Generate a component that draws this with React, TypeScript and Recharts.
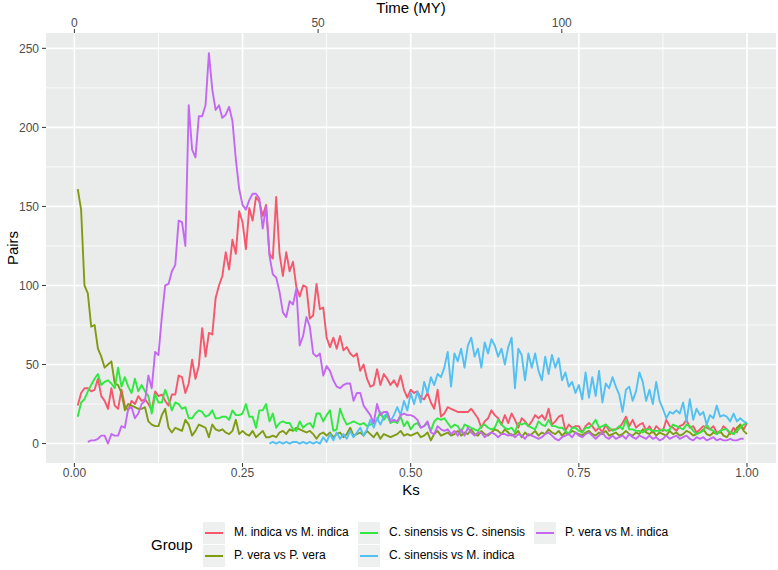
import React from "react";
import { LineChart, Line, XAxis, YAxis, CartesianGrid } from "recharts";

// Ks bins: 0.005 .. 1.000, step 0.005
const BIN = 0.005;
const N_BINS = 200;
const MY_PER_KS = 138;

const X_TICKS = [0, 0.25, 0.5, 0.75, 1];
const X_MINOR = [0.125, 0.375, 0.625, 0.875];
const Y_TICKS = [0, 50, 100, 150, 200, 250];
const Y_MINOR = [25, 75, 125, 175, 225];
const TIME_TICKS = [0, 50, 100];

// M. indica vs M. indica (from 0.005)
const RED = [
  24, 32, 35, 35, 33, 34, 41, 30, 27, 22,
  35, 24, 22, 34, 24, 21, 27, 25, 30, 27,
  28, 25, 21, 33, 30, 31, 27, 24, 31, 31,
  43, 42, 32, 38, 53, 41, 49, 73, 55, 70,
  69, 92, 100, 106, 121, 110, 129, 120, 147, 140,
  123, 149, 141, 156, 153, 144, 151, 120, 117, 156,
  120, 106, 121, 109, 115, 99, 93, 100, 99, 79,
  81, 101, 85, 86, 67, 61, 67, 60, 68, 59,
  61, 57, 55, 57, 46, 50, 41, 36, 37, 47,
  37, 44, 41, 37, 40, 36, 43, 34, 29, 34,
  32, 33, 29, 28, 32, 26, 22, 34, 17, 19,
  23, 22, 21, 20, 20, 20, 20, 22, 19, 16,
  10, 14, 16, 21, 18, 16, 12, 18, 13, 19,
  15, 10, 16, 14, 11, 14, 18, 16, 18, 15,
  22, 12, 14, 17, 18, 8, 12, 10, 11, 11,
  7, 11, 13, 11, 8, 10, 7, 12, 8, 9,
  9, 10, 13, 17, 11, 15, 10, 12, 13, 8,
  11, 7, 11, 9, 8, 15, 11, 10, 8, 11,
  12, 15, 10, 11, 7, 9, 11, 10, 9, 11,
  7, 7, 11, 9, 6, 10, 7, 12, 9, 13,
];

// P. vera vs P. vera (from 0.005)
const OLIVE = [
  161, 148, 100, 95, 74, 75, 60, 55, 48, 50,
  52, 38, 37, 32, 21, 25, 24, 23, 22, 22,
  23, 14, 12, 11, 11, 18, 22, 10, 7, 10,
  9, 8, 15, 12, 5, 8, 12, 11, 10, 4,
  12, 9, 8, 9, 7, 6, 8, 15, 6, 8,
  6, 5, 8, 4, 6, 8, 4, 4, 5, 4,
  7, 8, 6, 9, 8, 10, 9, 8, 7, 8,
  6, 3, 6, 7, 5, 7, 4, 6, 7, 4,
  6, 10, 5, 6, 7, 5, 8, 6, 4, 7,
  3, 6, 5, 4, 5, 6, 8, 5, 6, 5,
  6, 7, 4, 5, 7, 2, 6, 8, 5, 6,
  7, 5, 6, 8, 5, 7, 6, 9, 6, 5,
  8, 6, 5, 7, 9, 8, 6, 9, 7, 5,
  6, 8, 4, 7, 5, 6, 8, 5, 7, 6,
  9, 7, 6, 8, 5, 7, 6, 8, 7, 6,
  5, 7, 8, 6, 5, 7, 6, 8, 5, 6,
  7, 5, 6, 8, 6, 5, 7, 6, 9, 7,
  6, 8, 5, 7, 6, 5, 8, 6, 7, 5,
  6, 8, 7, 5, 6, 7, 9, 6, 5, 7,
  6, 8, 5, 4, 7, 6, 10, 12, 8, 6,
];

// C. sinensis vs C. sinensis (from 0.005)
const GREEN = [
  17, 26, 28, 33, 37, 41, 44, 37, 39, 40,
  38, 35, 48, 36, 42, 36, 32, 41, 33, 37,
  33, 30, 19, 31, 26, 26, 34, 28, 21, 26,
  25, 22, 23, 16, 16, 19, 21, 20, 17, 18,
  21, 16, 16, 17, 17, 15, 21, 18, 18, 19,
  25, 17, 17, 10, 21, 21, 25, 14, 19, 10,
  13, 14, 13, 13, 9, 8, 14, 10, 12, 13,
  10, 19, 19, 14, 18, 21, 8, 9, 22, 16,
  12, 13, 14, 13, 12, 13, 11, 12, 13, 15,
  20, 15, 18, 13, 14, 13, 17, 11, 14, 9,
  12, 13, 10, 11, 13, 8, 14, 16, 15, 16,
  13, 10, 12, 11, 7, 12, 11, 10, 9, 8,
  11, 12, 10, 9, 10, 15, 12, 10, 9, 10,
  7, 13, 12, 13, 11, 10, 9, 14, 12, 11,
  15, 11, 11, 10, 10, 8, 6, 10, 10, 8,
  7, 10, 10, 12, 15, 10, 11, 12, 10, 8,
  9, 11, 9, 15, 9, 9, 8, 8, 7, 9,
  9, 8, 8, 8, 9, 8, 9, 12, 11, 10,
  9, 12, 11, 8, 6, 7, 8, 12, 9, 8,
  6, 8, 9, 9, 7, 6, 8, 10, 12, 13,
];

// C. sinensis vs M. indica (from bin 58 = 0.29)
const BLUE_FIRST_BIN = 58;
const BLUE = [
  0, 1, 0,
  1, 0, 1, 0, 1, 1, 0, 1, 0, 1,
  0, 1, 0, 4, 1, 6, 2, 7, 3, 6,
  3, 8, 4, 7, 10, 5, 9, 15, 10, 16,
  12, 17, 19, 14, 18, 23, 18, 27, 21, 32,
  25, 33, 26, 39, 32, 42, 37, 44, 42, 48,
  58, 36, 57, 52, 60, 48, 62, 67, 55, 60,
  48, 64, 57, 66, 62, 55, 60, 50, 61, 67,
  35, 60, 56, 40, 57, 48, 57, 46, 40, 55,
  44, 56, 48, 54, 40, 45, 36, 39, 32, 37,
  28, 45, 29, 42, 30, 46, 26, 38, 35, 42,
  36, 31, 20, 34, 36, 27, 33, 45, 39, 27,
  34, 25, 39, 27, 22, 16, 20, 19, 21, 19,
  26, 14, 28, 15, 22, 18, 20, 12, 18, 16,
  24, 17, 18, 17, 14, 19, 14, 16, 14, 13,
];

// P. vera vs M. indica (from bin 4 = 0.02)
const PURPLE_FIRST_BIN = 4;
const PURPLE = [
  1, 2, 2, 3, 5, 5, 0,
  6, 5, 5, 11, 10, 22, 23, 16, 19, 25,
  27, 43, 35, 58, 56, 80, 100, 101, 109, 113,
  141, 140, 125, 214, 186, 181, 207, 207, 214, 247,
  224, 211, 214, 206, 208, 213, 204, 180, 161, 151,
  148, 154, 158, 158, 155, 136, 150, 119, 107, 105,
  96, 83, 80, 90, 88, 98, 62, 68, 80, 74,
  57, 55, 57, 43, 49, 46, 40, 36, 35, 37,
  38, 38, 27, 32, 32, 24, 21, 18, 13, 25,
  18, 20, 20, 14, 15, 14, 18, 19, 18, 18,
  17, 15, 10, 11, 14, 7, 6, 11, 9, 8,
  9, 6, 8, 5, 9, 5, 10, 7, 5, 7,
  7, 4, 6, 7, 6, 4, 6, 6, 5, 6,
  4, 6, 5, 3, 6, 5, 4, 3, 4, 6,
  7, 5, 3, 2, 4, 5, 6, 4, 7, 5,
  4, 6, 7, 5, 3, 5, 7, 4, 3, 5,
  3, 4, 5, 3, 6, 4, 3, 5, 4, 3,
  5, 3, 4, 2, 3, 5, 3, 4, 5, 3,
  4, 5, 3, 2, 4, 3, 4, 2, 3, 4,
  2, 3, 2, 2, 3, 2, 2, 3, 3,
];

const SERIES = [
  { key: "mm", name: "M. indica vs M. indica", color: "#F5576C" },
  { key: "pp", name: "P. vera vs P. vera", color: "#7F9B12" },
  { key: "cc", name: "C. sinensis vs C. sinensis", color: "#30E840" },
  { key: "cm", name: "C. sinensis vs M. indica", color: "#52C0F2" },
  { key: "pm", name: "P. vera vs M. indica", color: "#C468F2" },
];

const pick = (arr: number[], first: number, bin: number) => {
  const j = bin - first;
  return j >= 0 && j < arr.length ? arr[j] : undefined;
};

const rows = Array.from({ length: N_BINS }, (_, k) => {
  const bin = k + 1;
  return {
    ks: +(bin * BIN).toFixed(3),
    mm: RED[k],
    pp: OLIVE[k],
    cc: GREEN[k],
    cm: pick(BLUE, BLUE_FIRST_BIN, bin),
    pm: pick(PURPLE, PURPLE_FIRST_BIN, bin),
  };
});

const X_DOMAIN: [number, number] = [-0.0422, 1.0431];
const Y_DOMAIN: [number, number] = [-12.3, 259.7];
const tickStyle = { fill: "#4D4D4D", fontSize: 12 };
const tickLine = { stroke: "#333333", strokeWidth: 1 };

// legend layout: column x and row per series
const LEGEND_POS = [
  { x: 203, row: 0 },
  { x: 203, row: 1 },
  { x: 358, row: 0 },
  { x: 358, row: 1 },
  { x: 534, row: 0 },
];

export default function App() {
  return (
    <div
      style={{
        position: "absolute",
        left: 0,
        top: 0,
        width: 778,
        height: 570,
        background: "#fff",
        fontFamily: '"Liberation Sans", Arial, Helvetica, sans-serif',
        overflow: "hidden",
      }}
    >
      <LineChart width={778} height={570} data={rows} margin={{ top: 0, right: 2, bottom: 87, left: 0 }}>
        <CartesianGrid
          xAxisId="bottom"
          fill="#E9ECEB"
          stroke="#FFFFFF"
          strokeWidth={0.8}
          horizontalValues={Y_MINOR}
          verticalValues={X_MINOR}
        />
        <CartesianGrid
          xAxisId="bottom"
          fill="none"
          stroke="#FFFFFF"
          strokeWidth={1.6}
          horizontalValues={Y_TICKS}
          verticalValues={X_TICKS}
        />
        <XAxis
          xAxisId="bottom"
          type="number"
          dataKey="ks"
          domain={X_DOMAIN}
          allowDataOverflow
          ticks={X_TICKS}
          tickFormatter={(v: number) => v.toFixed(2)}
          height={20}
          axisLine={false}
          tickSize={4}
          tickMargin={1}
          tick={tickStyle}
          tickLine={tickLine}
          interval={0}
        />
        <XAxis
          xAxisId="top"
          orientation="top"
          type="number"
          dataKey="ks"
          domain={X_DOMAIN}
          allowDataOverflow
          ticks={TIME_TICKS.map((t) => t / MY_PER_KS)}
          tickFormatter={(v: number) => String(Math.round(v * MY_PER_KS))}
          height={33}
          axisLine={false}
          tickSize={4}
          tickMargin={2}
          tick={tickStyle}
          tickLine={tickLine}
          interval={0}
        />
        <YAxis
          type="number"
          domain={Y_DOMAIN}
          allowDataOverflow
          ticks={Y_TICKS}
          width={46}
          axisLine={false}
          tickSize={4}
          tickMargin={3}
          tick={tickStyle}
          tickLine={tickLine}
          interval={0}
        />
        {SERIES.map((s) => (
          <Line
            key={s.key}
            xAxisId="bottom"
            type="linear"
            dataKey={s.key}
            name={s.name}
            stroke={s.color}
            strokeWidth={1.9}
            strokeLinejoin="round"
            dot={false}
            activeDot={false}
            isAnimationActive={false}
          />
        ))}
      </LineChart>

      {/* axis titles */}
      <div style={{ position: "absolute", left: 0, width: 822, top: 0, textAlign: "center", fontSize: 15, lineHeight: "16px", color: "#000" }}>
        Time (MY)
      </div>
      <div style={{ position: "absolute", left: 0, width: 822, top: 481, textAlign: "center", fontSize: 15, color: "#000" }}>
        Ks
      </div>
      <div
        style={{
          position: "absolute",
          left: 12,
          top: 248,
          fontSize: 15,
          color: "#000",
          transform: "translate(-50%, -50%) rotate(-90deg)",
          whiteSpace: "nowrap",
        }}
      >
        Pairs
      </div>

      {/* legend */}
      <div style={{ position: "absolute", left: 151, top: 536, fontSize: 15, color: "#000" }}>Group</div>
      {SERIES.map((s, i) => {
        const p = LEGEND_POS[i];
        const top = 522 + p.row * 23;
        return (
          <div key={s.key}>
            <div
              style={{
                position: "absolute",
                left: p.x,
                top,
                width: 22,
                height: 22,
                background: "#EEF0EF",
              }}
            >
              <div style={{ position: "absolute", left: 2, right: 2, top: 10, height: 2, background: s.color }} />
            </div>
            <div
              style={{
                position: "absolute",
                left: p.x + 31,
                top: top + 3,
                fontSize: 12,
                color: "#000",
                whiteSpace: "nowrap",
              }}
            >
              {s.name}
            </div>
          </div>
        );
      })}
    </div>
  );
}
